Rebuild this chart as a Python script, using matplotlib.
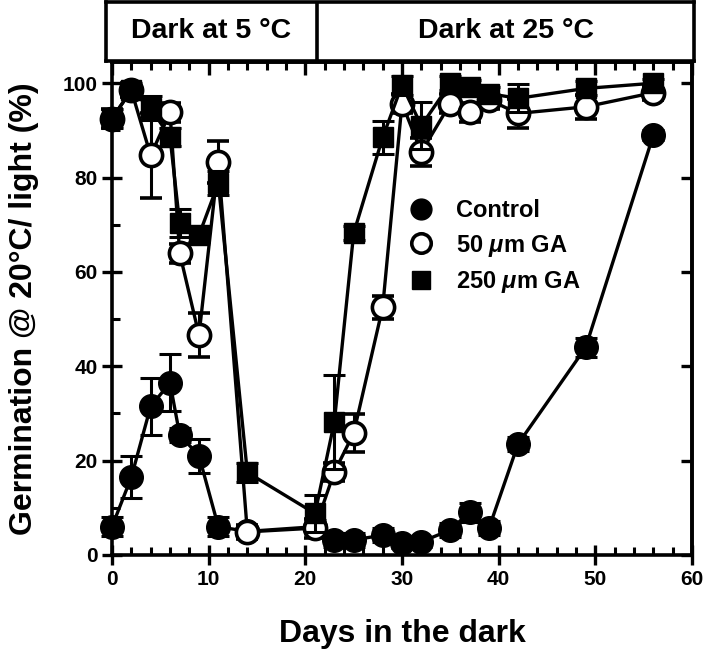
import matplotlib.pyplot as plt
from matplotlib.lines import Line2D
from matplotlib.ticker import MultipleLocator

plt.rcParams['font.family'] = ['Liberation Sans', 'DejaVu Sans']
plt.rcParams['font.weight'] = 'bold'
plt.rcParams['axes.labelweight'] = 'bold'
plt.rcParams['mathtext.fontset'] = 'custom'
plt.rcParams['mathtext.it'] = 'Liberation Sans:italic:bold'

days = [0, 2, 4, 6, 7, 9, 11, 14, 21, 23, 25, 28, 30, 32, 35, 37, 39, 42, 49, 56]

control = [6, 16.5, 31.5, 36.5, 25.5, 21, 6, 5, 6, 3.2, 3.2, 4.2, 2.5, 2.8,
           5.3, 9.1, 5.7, 23.5, 44, 89]
control_err = [2, 4.5, 6, 6, 1.5, 3.6, 2, 1, 1.5, 1.5, 1.5, 1.5, 1, 1,
               1.5, 2, 1.5, 1.5, 2, 1]

ga50 = [92.5, 98.5, 84.7, 93.8, 64, 46.6, 83.3, 4.9, 5.7, 17.6, 25.8, 52.5,
        95.7, 85.4, 95.7, 93.8, 96.5, 93.6, 95, 98]
ga50_err = [2, 1.5, 9, 2, 2, 4.6, 4.5, 1.5, 2, 2, 4, 2.5, 2, 3, 2, 2, 2, 3,
            2.5, 1.5]

ga250 = [92.6, 98.5, 94.7, 88.6, 70.3, 67.8, 78.8, 17.5, 8.8, 28.2, 68.2, 88.5,
         99.6, 91, 100, 99.2, 97.8, 96.8, 98.9, 100]
ga250_err = [2, 1.5, 2.5, 2, 3, 1.5, 2.5, 2, 4, 10, 1.5, 3.5, 2, 5, 1.5, 1.5,
             1.5, 3, 1.5, 1]

labels = ['Control', r'50 $\mathit{\mu}$m GA', r'250 $\mathit{\mu}$m GA']
phases = ['Dark at 5 °C', 'Dark at 25 °C']

W, H = 709, 654
fig = plt.figure(figsize=(W / 100, H / 100), dpi=100)
ax = fig.add_axes([112 / W, 1 - 555 / H, 580 / W, 493 / H])

lw = 2.4
common = dict(color='black', lw=lw, elinewidth=2.2, capsize=8, capthick=2.2,
              clip_on=False)
series = [
    (control, control_err, dict(marker='o', ms=17, mfc='black', mec='black'), 3),
    (ga50, ga50_err, dict(marker='o', ms=16, mfc='white', mec='black', mew=2.6), 4),
    (ga250, ga250_err, dict(marker='s', ms=15, mfc='black', mec='black'), 5),
]
for vals, errs, mk, z in series:
    eb = ax.errorbar(days, vals, yerr=errs, zorder=z, **common, **mk)
    for art in eb.lines[1] + eb.lines[2]:
        art.set_clip_on(False)

ax.set_xlim(0, 60)
ax.set_ylim(0, 104.5)
ax.xaxis.set_major_locator(MultipleLocator(10))
ax.xaxis.set_minor_locator(MultipleLocator(2))
ax.yaxis.set_major_locator(MultipleLocator(20))
ax.yaxis.set_minor_locator(MultipleLocator(10))
for s in ax.spines.values():
    s.set_linewidth(2.6)
ax.tick_params(which='major', direction='inout', length=15, width=2.4,
               labelsize=15, pad=3)
ax.tick_params(which='minor', direction='in', length=6, width=2.2)

top = ax.secondary_xaxis('top')
top.xaxis.set_major_locator(MultipleLocator(10))
top.xaxis.set_minor_locator(MultipleLocator(2))
top.tick_params(which='major', direction='in', length=9, width=2.4, labeltop=False)
top.tick_params(which='minor', direction='in', length=6, width=2.2)
top.spines['top'].set_linewidth(2.6)
right = ax.secondary_yaxis('right')
right.yaxis.set_major_locator(MultipleLocator(20))
right.yaxis.set_minor_locator(MultipleLocator(200))
right.tick_params(which='major', direction='in', length=8, width=2.4, labelright=False)
right.spines['right'].set_linewidth(2.6)

ax.set_xlabel('Days in the dark', fontsize=23, labelpad=22)
ax.set_ylabel('Germination @ 20°C/ light (%)', fontsize=23, labelpad=17)

handles = [Line2D([], [], ls='none', **series[i][2]) for i in range(3)]
handles[0].set_markersize(15)
handles[1].set_markersize(14)
handles[2].set_markersize(13)
ax.legend(handles, labels, loc='upper left', bbox_to_anchor=(0.475, 0.765),
          frameon=False, fontsize=17, handlelength=1.0, handletextpad=1.0,
          labelspacing=0.45)

hx0, hx1 = 106, 694
hdr = fig.add_axes([hx0 / W, 1 - 61 / H, (hx1 - hx0) / W, 59 / H])
hdr.set_xlim(0, 1)
hdr.set_ylim(0, 1)
hdr.set_xticks([])
hdr.set_yticks([])
for s in hdr.spines.values():
    s.set_linewidth(2.6)
split = (317 - hx0) / (hx1 - hx0)
hdr.axvline(split, color='black', lw=2.6)
hdr.text(split / 2, 0.5, phases[0], ha='center', va='center', fontsize=20.5)
hdr.text((split + 1) / 2, 0.5, phases[1], ha='center', va='center', fontsize=20.5)

fig.savefig('out.png', dpi=100)
